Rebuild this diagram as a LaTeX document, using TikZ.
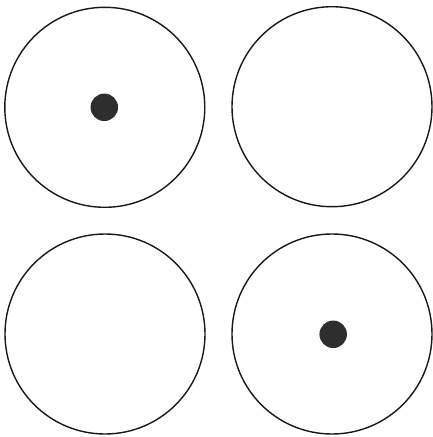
\documentclass[tikz,border=0pt]{standalone}
\begin{document}
\begin{tikzpicture}[x=1pt,y=-1pt,
  ring/.style={circle,draw=black!90,line width=1.4pt,minimum size=200pt,inner sep=0pt},
  spot/.style={circle,fill=black!82,minimum size=27.5pt,inner sep=0pt}]
\useasboundingbox (0,0) rectangle (433,437);
\fill[white] (0,0) rectangle (433,437);
\node[ring] (tl) at (104.8,107.3) {};
\node[ring] (tr) at (332,106.7) {};
\node[ring] (bl) at (105,334) {};
\node[ring] (br) at (332,334) {};
\node[spot] (d1) at (104.3,107.3) {};
\node[spot] (d2) at (333.2,334.3) {};
\end{tikzpicture}
\end{document}
